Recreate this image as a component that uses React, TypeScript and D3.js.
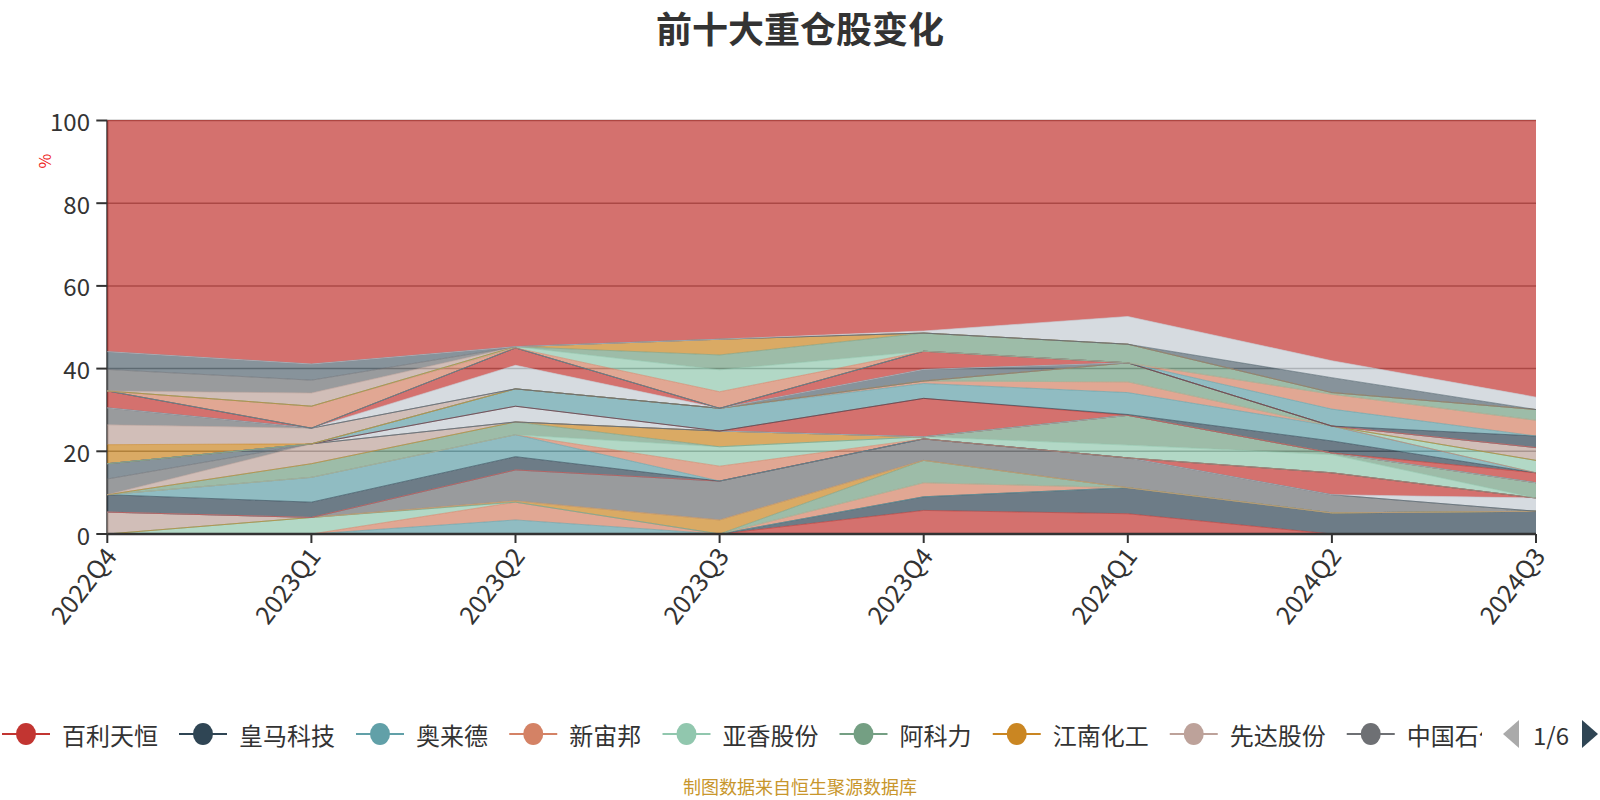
import React from 'react';
import * as d3 from 'd3';

// quarters on the x axis
const quarters = ['2022Q4', '2023Q1', '2023Q2', '2023Q3', '2023Q4', '2024Q1', '2024Q2', '2024Q3'];
const yTicks = [0, 20, 40, 60, 80, 100];

// names visible on legend page 1/6
const legendNames = ['百利天恒', '皇马科技', '奥来德', '新宙邦', '亚香股份', '阿科力', '江南化工', '先达股份', '中国石化'];

// holding ratio (%) per series, stacked in this order, one value per quarter
const holdings = [
  [0, 0, 0, 0, 5.7, 4.9, 0, 0],
  [0, 0, 0, 0, 3.3, 6.3, 5.1, 5.5],
  [0, 0, 3.4, 0, 0, 0, 0, 0],
  [0, 0, 4.3, 0, 3.4, 0, 0, 0],
  [0, 4.0, 0, 0, 0, 0, 0, 0],
  [0, 0, 0, 0, 5.4, 0, 0, 0],
  [0, 0, 0.3, 3.4, 0, 0, 0, 0],
  [5.3, 0, 0, 0, 0, 0, 0, 0],
  [0, 0, 7.5, 9.4, 5.2, 7.2, 4.4, 0],
  [0, 0, 0, 0, 0, 0, 0, 0],
  [0, 0, 0, 0, 0, 0, 0, 3.2],
  [0, 0, 0, 0, 0, 0, 5.3, 0],
  [4.2, 3.7, 3.2, 0, 0, 0, 0, 0],
  [0, 6.0, 5.3, 0, 0, 0, 0, 0],
  [0, 0, 0, 3.6, 0, 0, 0, 0],
  [0, 0, 0, 4.7, 0.5, 3.1, 4.4, 0],
  [0, 3.3, 3.1, 0, 0, 7.2, 0.4, 3.7],
  [0, 0, 0, 3.8, 0, 0, 0, 0],
  [0, 4.8, 0, 0, 0, 0, 0, 0],
  [3.8, 0, 0, 0, 0, 0, 0, 0],
  [3.7, 0, 0, 0, 0, 0, 0, 0],
  [0, 0, 3.8, 0, 0, 0, 0, 0],
  [0, 0, 0, 0, 9.3, 0, 0, 2.4],
  [0, 0, 0, 0, 0, 0.2, 2.9, 0],
  [0, 0, 4.2, 5.5, 3.6, 5.3, 3.6, 0],
  [0, 0, 0, 0, 0.6, 2.6, 0, 0],
  [0, 0, 0, 0, 0, 0, 0, 3.0],
  [0, 0, 0, 0, 0, 4.6, 0, 0],
  [4.6, 0, 0, 0, 0, 0, 0, 0],
  [4.8, 3.8, 0, 0, 0, 0, 0, 3.1],
  [4.1, 0, 0, 0, 0, 0, 0, 0],
  [0, 0, 0, 0, 2.8, 0, 0, 0],
  [0, 0, 5.7, 0, 0, 0, 0, 0],
  [4.1, 0, 4.2, 0, 4.4, 0, 0, 0],
  [0, 0, 0, 0, 0, 0, 0, 2.8],
  [0, 0, 0, 0, 0, 0, 4.1, 0],
  [0, 5.3, 0, 4.0, 0, 0, 3.6, 3.8],
  [0, 0, 0.3, 5.3, 0, 0, 0, 0],
  [0, 0, 0, 3.6, 4.4, 4.5, 0.4, 2.6],
  [0, 0, 0, 3.8, 0, 0, 0, 0],
  [0, 3.2, 0, 0, 0, 0, 0, 0],
  [5.2, 3.1, 0, 0, 0, 0, 0, 0],
  [4.3, 3.9, 0, 0, 0, 0, 3.6, 0],
  [0, 0, 0, 0, 0.5, 6.7, 4.1, 3.0],
  [55.9, 58.9, 54.7, 52.9, 50.9, 47.4, 58.1, 66.9],
];

const palette = ['#c23531', '#2f4554', '#61a0a8', '#d48265', '#91c7ae', '#749f83', '#ca8622', '#bda29a', '#6e7074', '#546570', '#c4ccd3'];
const font = '"Noto Sans CJK SC", "Noto Sans", sans-serif';

const App = () => {
  const W = 1600;
  const H = 800;
  const margin = { left: 107.3, right: 64, top: 120.5, bottom: 266 };

  const x = d3.scalePoint<string>().domain(quarters).range([margin.left, W - margin.right]);
  const y = d3.scaleLinear().domain([0, 100]).range([H - margin.bottom, margin.top]);

  const keys = holdings.map((_, i) => `s${i}`);
  const table = quarters.map((q, qi) => {
    const row: any = { q };
    holdings.forEach((vals, si) => { row[`s${si}`] = vals[qi]; });
    return row;
  });
  const stacked = d3.stack<any>().keys(keys)(table);

  const area = d3.area<any>()
    .x((d) => x(d.data.q) as number)
    .y0((d) => y(d[0]))
    .y1((d) => y(d[1]));
  const line = d3.line<any>()
    .x((d) => x(d.data.q) as number)
    .y((d) => y(d[1]));

  // legend layout (page 1)
  let lx = 2;
  const legendItems = legendNames.map((name, i) => {
    const item = { name, x: lx, color: palette[i % palette.length] };
    lx += 60 + name.length * 23.75 + 22;
    return item;
  });

  const x0 = margin.left;
  const x1 = W - margin.right;
  const yBase = y(0);

  return (
    <svg width={W} height={H} style={{ position: 'absolute', left: 0, top: 0, background: '#fff' }}>
      <defs>
        <clipPath id="legendClip">
          <rect x={0} y={700} width={1482} height={70} />
        </clipPath>
      </defs>

      <text x={800} y={27} textAnchor="middle" dominantBaseline="central" fontFamily={font}
        fontSize={36} fontWeight="bold" fill="#333">前十大重仓股变化</text>

      {/* grid lines */}
      {yTicks.filter((t) => t > 0).map((t) => (
        <line key={t} x1={x0} x2={x1} y1={y(t)} y2={y(t)} stroke="#777" strokeWidth={1.5} />
      ))}
      <line x1={x0} x2={x0} y1={y(100)} y2={yBase} stroke="#333" strokeWidth={2} />

      {/* stacked areas */}
      {stacked.map((s, i) => (
        <path key={s.key} d={area(s) || ''} fill={palette[i % palette.length]} fillOpacity={0.7} stroke="none" />
      ))}
      {stacked.map((s, i) => (
        <path key={`l${s.key}`} d={line(s) || ''} fill="none" stroke={palette[i % palette.length]}
          strokeOpacity={0.6} strokeWidth={1} />
      ))}

      {/* y axis */}
      {yTicks.map((t) => (
        <g key={t}>
          <line x1={x0 - 11} x2={x0} y1={y(t)} y2={y(t)} stroke="#333" strokeWidth={2} />
          <text x={90} y={y(t)} textAnchor="end" dominantBaseline="central" fontFamily={font}
            fontSize={24} fill="#333">{t}</text>
        </g>
      ))}
      <text x={44} y={161} transform="rotate(-90 44 161)" textAnchor="middle" dominantBaseline="central"
        fontFamily={font} fontSize={16} fill="#ee2222">%</text>

      {/* x axis */}
      <line x1={x0} x2={x1} y1={yBase} y2={yBase} stroke="#333" strokeWidth={2.5} />
      {quarters.map((q) => {
        const px = x(q) as number;
        return (
          <g key={q}>
            <line x1={px} x2={px} y1={yBase} y2={yBase + 9} stroke="#333" strokeWidth={2} />
            <text transform={`translate(${px + 2},${yBase + 16}) rotate(-52)`} textAnchor="end"
              dominantBaseline="central" fontFamily={font} fontSize={25} fill="#333">{q}</text>
          </g>
        );
      })}

      {/* legend */}
      <g clipPath="url(#legendClip)">
        {legendItems.map((it) => (
          <g key={it.name}>
            <line x1={it.x} x2={it.x + 48} y1={734} y2={734} stroke={it.color} strokeWidth={2} />
            <ellipse cx={it.x + 24} cy={734} rx={10} ry={11} fill={it.color} />
            <text x={it.x + 60} y={734} dominantBaseline="central" fontFamily={font} fontSize={24}
              fill="#333">{it.name}</text>
          </g>
        ))}
      </g>
      <polygon points="1519,720 1519,748 1503,734" fill="#aaa" />
      <text x={1551} y={734} textAnchor="middle" dominantBaseline="central" fontFamily={font}
        fontSize={24} fill="#333">1/6</text>
      <polygon points="1582,720 1582,748 1598,734" fill="#2f4554" />

      <text x={800} y={786} textAnchor="middle" dominantBaseline="central" fontFamily={font}
        fontSize={18} fill="#c8962c">制图数据来自恒生聚源数据库</text>
    </svg>
  );
};

export default App;
